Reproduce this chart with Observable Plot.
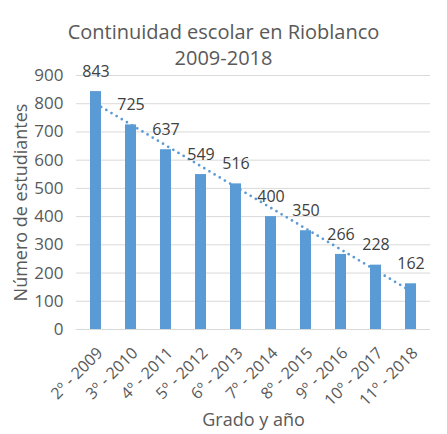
<!DOCTYPE html>
<html><head><meta charset="utf-8">
<script src="https://cdn.jsdelivr.net/npm/d3@7"></script>
<script src="https://cdn.jsdelivr.net/npm/@observablehq/plot@0.6"></script>
<style>
body{margin:0;background:#fff;font-family:"Open Sans",sans-serif;position:relative;width:447px;height:434px;overflow:hidden;}
#title{position:absolute;top:0;left:0;width:447px;padding-top:19px;text-align:center;font-size:20px;line-height:26px;color:#595959;}
#chart{padding-top:60px;}
</style></head><body>
<div id="title">Continuidad escolar en Rioblanco<br>2009-2018</div>
<div id="chart"></div>
<script>
const categories = ["2º - 2009","3º - 2010","4º - 2011","5º - 2012","6º - 2013","7º - 2014","8º - 2015","9º - 2016","10º - 2017","11º - 2018"];
const students = [843,725,637,549,516,400,350,266,228,162];
const yTicks = [0,100,200,300,400,500,600,700,800,900];

const data = categories.map((c,i)=>({cat:c, value:students[i]}));
// linear trendline (least squares), like the spreadsheet's trend line
const idx = categories.map((c,i)=>i+1);
const mx = d3.mean(idx), my = d3.mean(students);
const slope = d3.sum(idx,(x,i)=>(x-mx)*(students[i]-my)) / d3.sum(idx,x=>(x-mx)**2);
const trend = categories.map((c,i)=>({cat:c, value: my + slope*(idx[i]-mx)}));

const chart = Plot.plot({
  width:447, height:374,
  marginLeft:76, marginRight:17, marginTop:15, marginBottom:105,
  style:{fontFamily:"Open Sans", fontSize:"14px", color:"#595959", background:"transparent", overflow:"visible"},
  x:{domain:categories, paddingInner:0.68, paddingOuter:0.34, label:null},
  y:{domain:[0,900], label:null},
  marks:[
    Plot.gridY(yTicks,{stroke:"#d9d9d9", strokeOpacity:1, strokeWidth:1}),
    Plot.ruleY([0],{stroke:"#d9d9d9", strokeWidth:1}),
    Plot.barY(data,{x:"cat", y:"value", fill:"#5b9bd5"}),
    Plot.line(trend,{x:"cat", y:"value", stroke:"#5b9bd5", strokeWidth:2.75, strokeDasharray:"0,6", strokeLinecap:"round"}),
    Plot.text(data,{x:"cat", y:"value", text:d=>String(d.value), dy:-20, fontSize:16, fill:"#404040"}),
    Plot.axisY({ticks:yTicks, tickSize:0, tickPadding:13, fontSize:17, label:null, fill:"#595959"}),
    Plot.axisX({tickRotate:-45, tickSize:0, tickPadding:21, dx:4, fontSize:16, label:null, fill:"#595959"}),
    Plot.text(["Número de estudiantes"],{frameAnchor:"left", dx:-55, rotate:-90, textAnchor:"middle", fontSize:18, fill:"#595959", lineAnchor:"middle"}),
    Plot.text(["Grado y año"],{frameAnchor:"bottom", dy:91, textAnchor:"middle", fontSize:18, fill:"#595959", lineAnchor:"middle"})
  ]
});
document.getElementById("chart").appendChild(chart);
</script>
</body></html>
